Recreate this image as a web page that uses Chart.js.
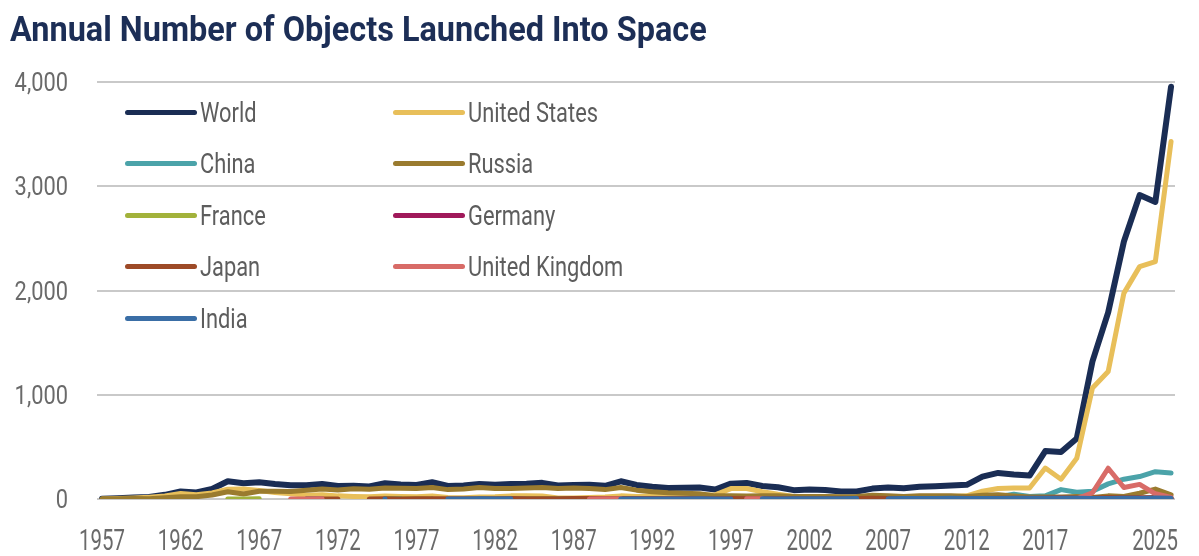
<!DOCTYPE html>
<html>
<head>
<meta charset="utf-8">
<script src="https://cdn.jsdelivr.net/npm/chart.js@4"></script>
<style>
  html, body { margin: 0; padding: 0; background: #fff; }
  #wrap { position: relative; width: 1199px; height: 556px; overflow: hidden; }
  #title {
    position: absolute; left: 10px; top: 12px; margin: 0;
    font: bold 35px/35px Roboto, 'Liberation Sans', sans-serif;
    color: #1c2e56; white-space: nowrap; transform-origin: left top;
  }
  #legend { position: absolute; left: 0; top: 0; }
  .item {
    position: absolute; display: flex; align-items: center; height: 32px;
    font: 28px Roboto, 'Liberation Sans', sans-serif;
    color: #5d5d5d; white-space: nowrap;
  }
  .sw { width: 72px; height: 5px; border-radius: 3px; margin-right: 3px; flex: none; }
  .lbl { display: inline-block; transform: scaleX(0.78); transform-origin: left center; }
  canvas { position: absolute; left: 0; top: 0; }
</style>
</head>
<body>
<div id="wrap">
  <canvas id="chart" width="1199" height="556"></canvas>
  <h1 id="title">Annual Number of Objects Launched Into Space</h1>
  <div id="legend"></div>
</div>
<script>
'use strict';

const FONT = "Roboto, 'Liberation Sans', sans-serif";
const N = null;

// 1957 .. 2025
const years = Array.from({ length: 69 }, (_, i) => 1957 + i);
const xTickYears = [1957, 1962, 1967, 1972, 1977, 1982, 1987, 1992, 1997, 2002, 2007, 2012, 2017, 2025];
const yTicks = [0, 1000, 2000, 3000, 4000];

const seriesNames = ['World', 'United States', 'China', 'Russia', 'France', 'Germany', 'Japan', 'United Kingdom', 'India'];
const seriesColors = ['#1a2d54', '#e8bf5a', '#4ba3a9', '#9a7b2f', '#a2b23b', '#a0195a', '#9d4a27', '#d86b67', '#3a6ea6'];

const world = [
  2, 8, 14, 19, 40, 73, 62, 96, 170, 152,
  160, 143, 132, 131, 145, 125, 126, 121, 151, 139,
  135, 161, 125, 130, 145, 136, 145, 146, 155, 129,
  134, 136, 127, 170, 135, 118, 106, 109, 111, 91,
  147, 154, 125, 113, 85, 90, 87, 71, 72, 100,
  110, 103, 117, 123, 129, 136, 215, 250, 235, 225,
  460, 450, 580, 1320, 1790, 2470, 2915, 2850, 3955
];
const unitedStates = [
  0, 5, 10, 16, 29, 52, 40, 58, 94, 96,
  82, 62, 50, 35, 40, 30, 25, 22, 28, 25,
  22, 30, 15, 12, 20, 22, 30, 30, 28, 10,
  10, 15, 20, 30, 25, 28, 30, 30, 35, 40,
  100, 100, 70, 45, 25, 25, 25, 15, 12, 25,
  20, 15, 20, 20, 25, 30, 75, 100, 105, 105,
  297, 190, 390, 1065, 1222, 1975, 2229, 2277, 3430
];
const china = [
  N, N, N, N, N, N, N, N, N, N,
  N, N, N, 1, 1, N, N, N, 3, 3,
  N, 1, N, N, 3, 1, 1, 3, 1, 2,
  2, 4, 2, 5, 1, 4, 3, 5, 2, 3,
  6, 6, 4, 5, 2, 6, 7, 10, 6, 9,
  11, 11, 8, 16, 20, 21, 15, 21, 45, 24,
  30, 90, 65, 75, 145, 190, 215, 262, 250
];
const russia = [
  2, 3, 4, 3, 11, 21, 22, 38, 70, 48,
  74, 74, 73, 84, 95, 87, 98, 94, 105, 102,
  100, 110, 90, 95, 110, 100, 100, 105, 110, 100,
  105, 100, 90, 110, 85, 70, 60, 55, 50, 30,
  30, 28, 30, 32, 25, 25, 25, 22, 25, 35,
  30, 25, 30, 30, 30, 25, 35, 40, 30, 20,
  20, 20, 25, 15, 30, 25, 55, 95, 40
];
const france = [
  N, N, N, N, N, N, N, N, 1, 1,
  2, N, N, N, N, N, N, N, 3, 1,
  2, 1, N, N, N, N, N, 2, 2, 3,
  1, 2, 3, 2, 3, 3, 2, 3, 4, 3,
  4, 3, 3, 4, 3, 4, 3, 2, 4, 3,
  3, 4, 3, 4, 5, 4, 3, 4, 3, 4,
  5, 4, 3, 4, 5, 3, 4, 3, 4
];
const germany = [
  N, N, N, N, N, N, N, N, N, N,
  N, N, N, N, N, N, N, N, N, N,
  N, N, N, N, N, N, N, N, N, N,
  N, N, N, 2, 2, 2, 1, 2, 2, 1,
  2, 1, 3, 2, 2, 2, 1, 1, 2, 2,
  3, 4, 3, 2, 3, 2, 3, 2, 3, 2,
  5, 6, 4, 5, 6, 8, 10, 9, 6
];
const japan = [
  N, N, N, N, N, N, N, N, N, N,
  N, N, N, 1, 1, 1, N, 1, 2, 1,
  2, 3, 2, 2, 3, 2, 4, 3, 3, 3,
  4, 4, 4, 5, 2, 2, 2, 3, 2, 3,
  3, 3, 2, 2, 2, 4, 4, 2, 5, 6,
  4, 4, 5, 5, 4, 6, 5, 7, 6, 7,
  10, 12, 9, 10, 15, 12, 10, 14, 12
];
const unitedKingdom = [
  N, N, N, N, N, N, N, N, N, N,
  N, N, 1, 1, 2, N, N, N, N, N,
  N, N, N, N, N, N, N, N, N, N,
  N, 1, 2, 2, N, N, N, N, N, N,
  N, 3, 2, N, N, N, N, N, N, N,
  N, N, N, N, N, N, N, N, N, N,
  N, N, 2, 60, 295, 110, 140, 50, 15
];
const india = [
  N, N, N, N, N, N, N, N, N, N,
  N, N, N, N, N, N, N, N, 1, N,
  N, N, 1, 1, 3, 1, 2, N, N, N,
  N, N, N, 1, 1, 1, 1, 1, 2, 1,
  1, N, 2, 1, 2, 2, 2, 2, 4, N,
  3, 4, 5, 5, 6, 4, 4, 5, 6, 7,
  8, 7, 6, 4, 5, 8, 6, 9, 7
];

const seriesData = [world, unitedStates, china, russia, france, germany, japan, unitedKingdom, india];

const $ = id => document.getElementById(id);

document.addEventListener('DOMContentLoaded', () => {
  fitTitle();
  buildLegend();
  initChart();
});

// the source uses a condensed face; squeeze the title to the same width
function fitTitle() {
  const t = $('title');
  const w = t.getBoundingClientRect().width;
  t.style.transform = `scaleX(${(697 / w).toFixed(3)})`;
}

/* ─── Legend (two columns, inside the plot) ─── */
function buildLegend() {
  const box = $('legend');
  seriesNames.forEach((name, i) => {
    const col = i % 2, row = Math.floor(i / 2);
    const el = document.createElement('div');
    el.className = 'item';
    el.style.left = (col === 0 ? 125 : 393) + 'px';
    el.style.top = (96 + row * 51.5) + 'px';
    el.innerHTML = `<span class="sw" style="background:${seriesColors[i]}"></span><span class="lbl">${name}</span>`;
    box.appendChild(el);
  });
}

/* ─── Narrow tick labels (drawn at the library's tick positions) ─── */
const condensedTicks = {
  id: 'condensedTicks',
  afterDraw(chart) {
    const { ctx, scales: { x, y } } = chart;
    ctx.save();
    ctx.fillStyle = '#6a6a6a';
    ctx.textBaseline = 'alphabetic';

    ctx.font = `30px ${FONT}`;
    ctx.textAlign = 'center';
    const sx = 0.68;
    x.ticks.forEach(t => {
      const txt = String(t.value);
      const half = ctx.measureText(txt).width * sx / 2;
      const px = Math.min(x.getPixelForValue(t.value), chart.width - 21 - half);
      ctx.save();
      ctx.translate(px, x.top + 51);
      ctx.scale(sx, 1);
      ctx.fillText(txt, 0, 0);
      ctx.restore();
    });

    ctx.font = `26px ${FONT}`;
    ctx.textAlign = 'right';
    y.ticks.forEach(t => {
      ctx.save();
      ctx.translate(y.right - 29, y.getPixelForValue(t.value) + 9);
      ctx.scale(0.84, 1);
      ctx.fillText(t.value.toLocaleString('en-US'), 0, 0);
      ctx.restore();
    });
    ctx.restore();
  }
};

/* ─── Chart ─── */
function initChart() {
  const ctx = $('chart').getContext('2d');
  const n = seriesNames.length;

  new Chart(ctx, {
    type: 'line',
    data: {
      labels: years,
      datasets: seriesNames.map((name, i) => ({
        label: name,
        data: seriesData[i],
        borderColor: seriesColors[i],
        backgroundColor: seriesColors[i],
        borderWidth: i === 0 ? 6 : 5,
        borderCapStyle: 'round',
        borderJoinStyle: 'round',
        pointRadius: 0,
        tension: 0,
        spanGaps: false,
        order: n - 1 - i   // later series drawn on top, as in the source
      }))
    },
    plugins: [condensedTicks],
    options: {
      responsive: false,
      animation: false,
      events: [],
      layout: { padding: { top: 82, right: 24, left: 0, bottom: 0 } },
      plugins: { legend: { display: false }, tooltip: { enabled: false } },
      scales: {
        x: {
          type: 'linear',
          min: 1956.68,
          max: 2025.25,
          grid: { display: false, drawTicks: false },
          border: { display: false },
          afterBuildTicks: s => { s.ticks = xTickYears.map(v => ({ value: v })); },
          afterFit: s => { s.height = 57; },
          ticks: { display: false, autoSkip: false }
        },
        y: {
          min: 0,
          max: 4000,
          grid: { color: '#c9c9c9', lineWidth: 2, drawTicks: false },
          border: { display: false },
          afterBuildTicks: s => { s.ticks = yTicks.map(v => ({ value: v })); },
          afterFit: s => { s.width = 97; },
          ticks: { display: false }
        }
      }
    }
  });
}
</script>
</body>
</html>
